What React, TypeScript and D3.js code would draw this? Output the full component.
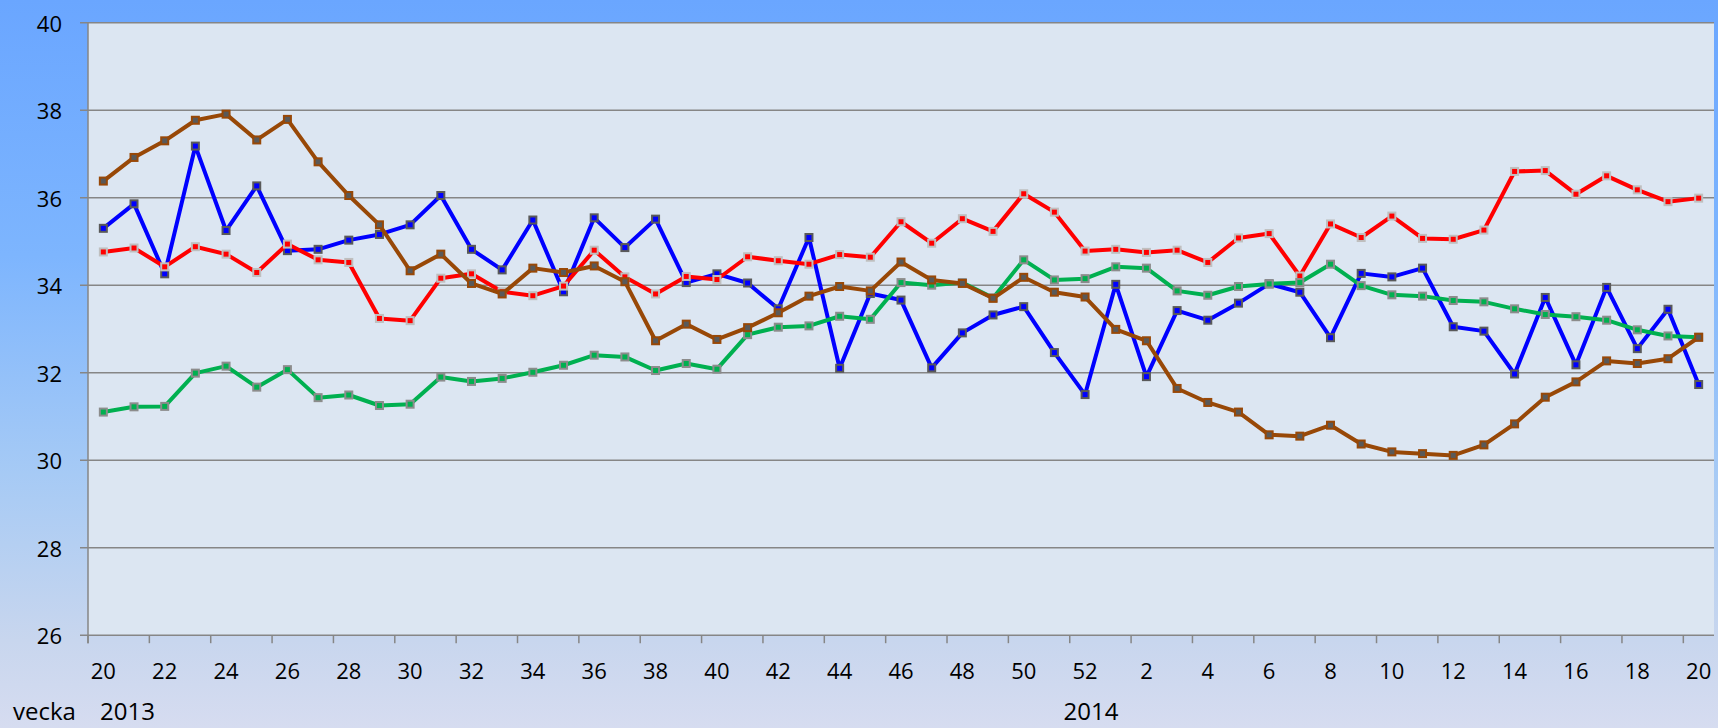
import React from 'react';
import * as d3 from 'd3';

// weeks: 2013 w20..w52, then 2014 w1..w20
const weeks2013 = d3.range(20, 53);
const weeks2014 = d3.range(1, 21);
const weeks = [...weeks2013, ...weeks2014];

const blue = [
  35.30, 35.86, 34.26, 37.18, 35.25, 36.27, 34.79, 34.82, 35.03, 35.16, 35.38, 36.05,
  34.82, 34.35, 35.49, 33.85, 35.54, 34.86, 35.51, 34.06, 34.26, 34.05, 33.46, 35.09, 32.10,
  33.81, 33.66, 32.11, 32.91, 33.32, 33.51, 32.46, 31.50, 34.02, 31.91, 33.42, 33.20, 33.59, 34.03, 33.84,
  32.80, 34.27, 34.19, 34.39, 33.05, 32.95, 31.97, 33.72, 32.18, 33.95, 32.55, 33.45, 31.73,
];

const red = [
  34.76, 34.85, 34.42, 34.88, 34.71, 34.29, 34.94, 34.58, 34.52, 33.24, 33.19, 34.16,
  34.26, 33.85, 33.76, 33.98, 34.80, 34.19, 33.80, 34.20, 34.13, 34.65, 34.56, 34.48, 34.70,
  34.64, 35.45, 34.96, 35.52, 35.23, 36.09, 35.67, 34.78, 34.82, 34.75, 34.80, 34.52, 35.08, 35.18, 34.21,
  35.40, 35.09, 35.58, 35.07, 35.05, 35.26, 36.60, 36.62, 36.08, 36.50, 36.18, 35.91, 35.99,
];

const green = [
  31.10, 31.22, 31.23, 31.99, 32.15, 31.67, 32.07, 31.43, 31.49, 31.25, 31.28, 31.90,
  31.80, 31.87, 32.01, 32.17, 32.40, 32.36, 32.05, 32.21, 32.08, 32.87, 33.04, 33.07, 33.29,
  33.22, 34.06, 34.00, 34.06, 33.71, 34.58, 34.12, 34.15, 34.42, 34.39, 33.87, 33.77, 33.97, 34.03, 34.06,
  34.48, 33.99, 33.78, 33.75, 33.65, 33.62, 33.46, 33.33, 33.28, 33.20, 32.98, 32.84, 32.81,
];

const brown = [
  36.38, 36.92, 37.30, 37.77, 37.91, 37.32, 37.79, 36.82, 36.05, 35.38, 34.33, 34.71,
  34.04, 33.80, 34.39, 34.29, 34.44, 34.08, 32.73, 33.11, 32.76, 33.03, 33.37, 33.75, 33.97,
  33.87, 34.53, 34.12, 34.04, 33.70, 34.18, 33.84, 33.73, 32.99, 32.73, 31.64, 31.32, 31.10, 30.58, 30.55,
  30.80, 30.37, 30.19, 30.15, 30.11, 30.35, 30.83, 31.44, 31.79, 32.27, 32.21, 32.32, 32.81,
];

const yTicks = [26, 28, 30, 32, 34, 36, 38, 40];

// drawing order: blue under red under green under brown
const series = [
  { name: 'blue', values: blue, line: '#0000ff', fill: '#0000ff', stroke: '#595959' },
  { name: 'red', values: red, line: '#ff0000', fill: '#ff0000', stroke: '#bfbfbf' },
  { name: 'green', values: green, line: '#00b050', fill: '#00b050', stroke: '#8c8c8c' },
  { name: 'brown', values: brown, line: '#984807', fill: '#595959', stroke: '#984807' },
];

const W = 1718;
const H = 728;
const left = 88;
const right = 1714;
const top = 22.7;
const bottom = 635.2;
const font = "'Open Sans', sans-serif";

export default function App() {
  const idx = weeks.map((_, i) => i);
  const x = d3.scaleBand<number>().domain(idx).range([left, right]).padding(0);
  const bw = x.bandwidth();
  const cx = (i: number) => (x(i) as number) + bw / 2;
  const y = d3.scaleLinear().domain([26, 40]).range([bottom, top]);

  const line = d3
    .line<number>()
    .x((_, i) => cx(i))
    .y((d) => y(d));

  const tickIdx = idx.filter((i) => i % 2 === 0);

  return (
    <svg width={W} height={H} style={{ position: 'absolute', left: 0, top: 0 }}>
      <defs>
        <linearGradient id="bg" x1="0" y1="0" x2="0" y2="1">
          <stop offset="0" stopColor="#6aa6ff" />
          <stop offset="0.35" stopColor="#7db5fe" />
          <stop offset="0.65" stopColor="#a6caf5" />
          <stop offset="0.88" stopColor="#c8d6ee" />
          <stop offset="1" stopColor="#d6dcf0" />
        </linearGradient>
      </defs>
      <rect x={0} y={0} width={W} height={H} fill="url(#bg)" />
      <rect x={left} y={top} width={right - left} height={bottom - top} fill="#dce6f2" />

      {/* gridlines */}
      {yTicks.map((t) => (
        <line key={t} x1={left - 8} x2={right} y1={y(t)} y2={y(t)} stroke="#868686" strokeWidth={1.5} />
      ))}
      <line x1={left} x2={left} y1={top} y2={bottom + 8} stroke="#868686" strokeWidth={1.5} />
      {tickIdx.map((i) => (
        <line key={i} x1={x(i)} x2={x(i)} y1={bottom} y2={bottom + 8} stroke="#868686" strokeWidth={1.5} />
      ))}

      {/* y labels */}
      {yTicks.map((t) => (
        <text key={t} x={62} y={y(t)} textAnchor="end" dominantBaseline="central" fontFamily={font} fontSize={22} fill="#000">
          {t}
        </text>
      ))}

      {/* x labels */}
      {tickIdx.map((i) => (
        <text key={i} x={cx(i)} y={670} textAnchor="middle" dominantBaseline="central" fontFamily={font} fontSize={22} fill="#000">
          {weeks[i]}
        </text>
      ))}

      <text x={13} y={720} fontFamily={font} fontSize={24} fill="#000">vecka</text>
      <text x={100} y={720} fontFamily={font} fontSize={24} fill="#000">2013</text>
      <text x={1091} y={720} textAnchor="middle" fontFamily={font} fontSize={24} fill="#000">2014</text>

      {/* series */}
      {series.map((s) => (
        <g key={s.name}>
          <path d={line(s.values) || ''} fill="none" stroke={s.line} strokeWidth={4} strokeLinejoin="round" />
          {s.values.map((v, i) => (
            <rect key={i} x={cx(i) - 3.5} y={y(v) - 3.5} width={7} height={7} fill={s.fill} stroke={s.stroke} strokeWidth={2} />
          ))}
        </g>
      ))}
    </svg>
  );
}
